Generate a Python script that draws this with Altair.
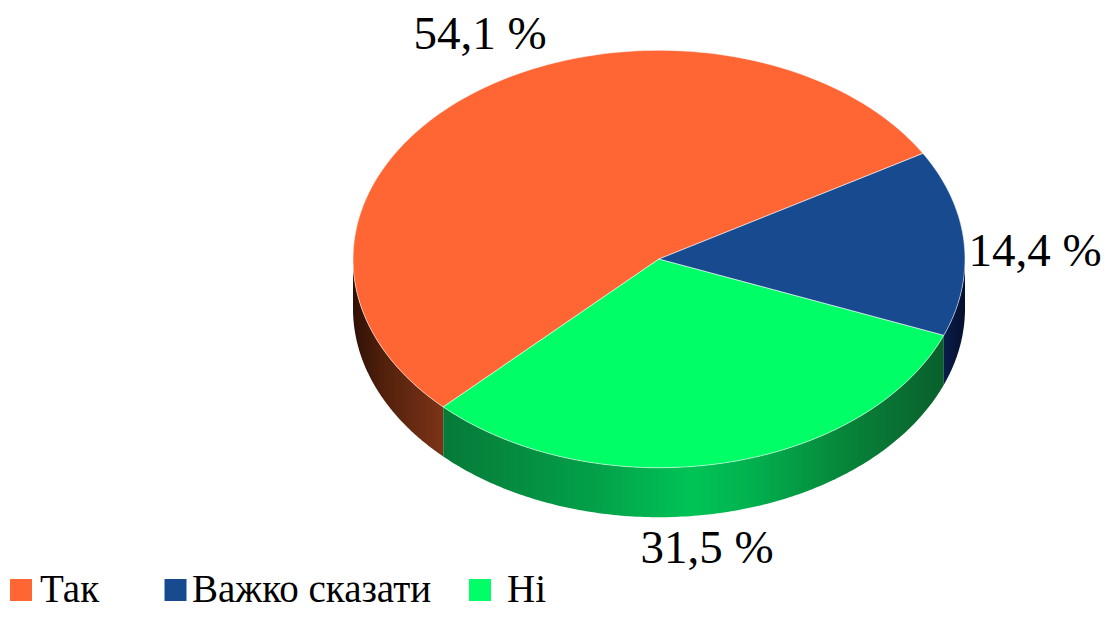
import altair as alt
import numpy as np
import pandas as pd

categories = ["Так", "Важко сказати", "Ні"]
values = [54.1, 14.4, 31.5]
value_labels = ["54,1 %", "14,4 %", "31,5 %"]
colors = ["#FF6633", "#184A90", "#00FF66"]

# pie geometry in picture pixels
CX, CY, RX, RY, DEPTH = 659.0, 259.0, 306.0, 208.7, 49.5
START = 30.4  # angle of the Так / Важко boundary, anticlockwise

x_scale = alt.Scale(domain=[8, 1102], range=[0, 1094], nice=False, zero=False)
y_scale = alt.Scale(domain=[8, 611], range=[0, 603], nice=False, zero=False)
X = alt.X("x:Q", scale=x_scale, axis=None)
Y = alt.Y("y:Q", scale=y_scale, axis=None)
color_scale = alt.Scale(domain=categories, range=colors)

def point(t):
    r = np.radians(t)
    return CX + RX * np.cos(r), CY - RY * np.sin(r)

# sector boundaries: Так goes anticlockwise from START, then Ні, then Важко
tak, vazh, ni = values
a0 = START
a1 = a0 + tak * 3.6      # Так -> Ні
a2 = a1 + ni * 3.6       # Ні -> Важко
a3 = a2 + vazh * 3.6     # back to START

rows = []
for name, s, e in [("Так", a0, a1), ("Ні", a1, a2), ("Важко сказати", a2, a3)]:
    ts = np.linspace(s, e, 160)
    xs, ys = point(ts)
    pts = [(CX, CY)] + list(zip(xs, ys)) + [(CX, CY)]
    for i, (px, py) in enumerate(pts):
        rows.append({"cat": name, "i": i, "x": float(px), "y": float(py)})
top_df = pd.DataFrame(rows)

def wall(s, e):
    ts = np.linspace(s, e, 160)
    xs, ys = point(ts)
    return pd.DataFrame({"x": xs, "y": ys, "y2": ys + DEPTH})

def grad(stops):
    return alt.LinearGradient(
        gradient="linear", x1=0, x2=1, y1=0, y2=0,
        stops=[alt.GradientStop(offset=o, color=c) for o, c in stops],
    )

wall_orange = alt.Chart(wall(180, a1)).mark_area(
    color=grad([(0, "#2e1005"), (0.3, "#4f1f0b"), (1, "#7c3417")]), orient="vertical"
).encode(x=X, y=Y, y2="y2:Q")
wall_green = alt.Chart(wall(a1, a2)).mark_area(
    color=grad([(0, "#067a38"), (0.3, "#03a049"), (0.5, "#00c456"), (0.62, "#02b04e"),
                (0.8, "#07853a"), (1, "#0a5f2c")]),
    orient="vertical",
).encode(x=X, y=Y, y2="y2:Q")
wall_blue = alt.Chart(wall(a2, 360)).mark_area(
    color=grad([(0, "#0a1d4a"), (1, "#04102c")]), orient="vertical"
).encode(x=X, y=Y, y2="y2:Q")

top = alt.Chart(top_df).mark_line(
    stroke="#ffffff", strokeWidth=1, strokeOpacity=0.55, strokeJoin="round"
).encode(
    x=X,
    y=Y,
    order=alt.Order("i:Q"),
    detail="cat:N",
    fill=alt.Fill("cat:N", scale=color_scale, legend=None),
)

def label(text, px, py):
    return alt.Chart(pd.DataFrame({"t": [text]})).mark_text(
        font="Liberation Serif", fontSize=47, color="#000000", align="center", baseline="middle"
    ).encode(text="t:N", x=alt.value(px), y=alt.value(py))

def key(name, sx, tx, py=582):
    d = pd.DataFrame({"cat": [name]})
    sq = alt.Chart(d).mark_square(size=484, strokeWidth=0, opacity=1).encode(
        x=alt.value(sx), y=alt.value(py),
        fill=alt.Fill("cat:N", scale=color_scale, legend=None),
    )
    tx_mark = alt.Chart(d).mark_text(
        font="Liberation Serif", fontSize=39, color="#000000", align="left", baseline="middle"
    ).encode(text="cat:N", x=alt.value(tx), y=alt.value(py))
    return [sq, tx_mark]

labels = [
    label(value_labels[0], 472, 27),
    label(value_labels[1], 1027, 244),
    label(value_labels[2], 699, 541),
]
keys = key(categories[0], 13, 32) + key(categories[1], 167.5, 184) + key(categories[2], 472, 499)

chart = alt.layer(wall_orange, wall_green, wall_blue, top, *labels, *keys).properties(
    width=1094, height=603, padding=0, autosize=alt.AutoSizeParams(type="none")
).configure_view(stroke=None)

chart.save("out.html", embed_options={"renderer": "svg", "actions": False})
